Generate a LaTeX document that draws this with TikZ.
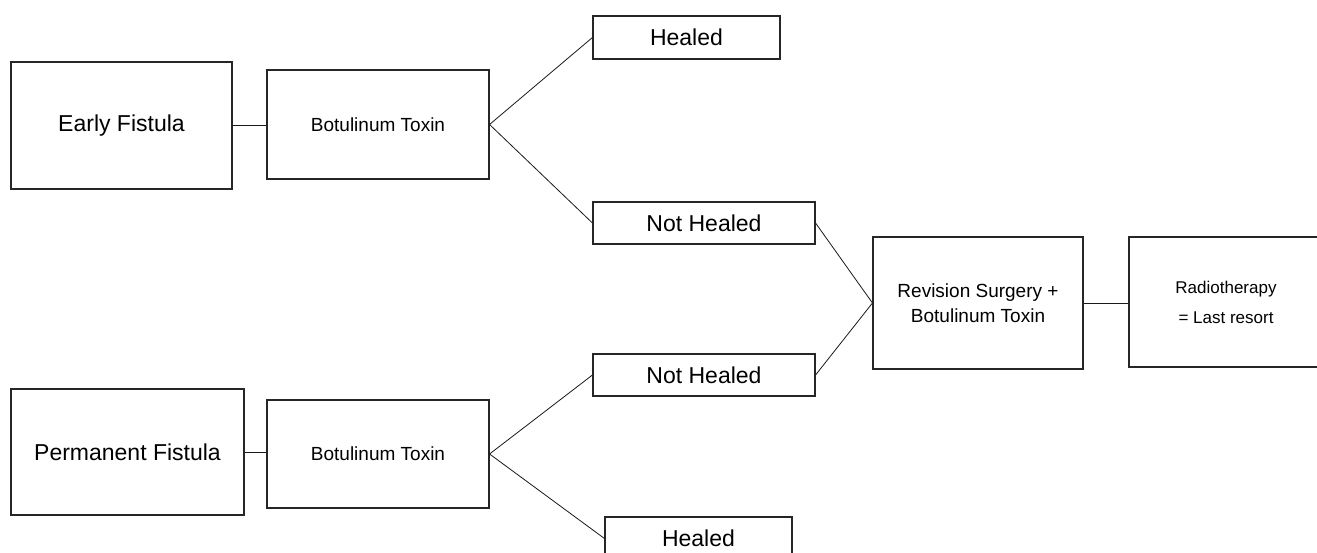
\documentclass[tikz,border=0pt]{standalone}
\usepackage{fontspec}
\setmainfont{Liberation Sans}

\begin{document}
\begin{tikzpicture}[x=1pt,y=-1pt,
    box/.style={draw=black!85,line width=1.1pt,inner sep=0pt,align=center},
    big/.style={box,font=\fontsize{23}{28}\selectfont},
    mid/.style={box,font=\fontsize{19}{25}\selectfont},
    small/.style={box,font=\fontsize{17}{30}\selectfont},
    link/.style={draw=black!90,line width=0.8pt}]
      \clip (0,0) rectangle (1317,553);
      \node[big,minimum width=221,minimum height=127] (early) at (121.5,125.5) {Early Fistula};
      \node[mid,minimum width=222,minimum height=109] (botA) at (378,124.5) {Botulinum Toxin};
      \node[big,minimum width=187,minimum height=43] (healA) at (686.5,37.5) {Healed};
      \node[big,minimum width=222,minimum height=42] (notA) at (704,223) {Not Healed};
      \node[mid,minimum width=210,minimum height=132] (revis) at (978,303) {Revision Surgery +\\Botulinum Toxin};
      \node[small,minimum width=194,minimum height=130] (radio) at (1226,302) {Radiotherapy\\ = Last resort};
      \node[big,minimum width=222,minimum height=42] (notB) at (704,375) {Not Healed};
      \node[big,minimum width=233,minimum height=126] (perm) at (127.5,452) {Permanent Fistula};
      \node[mid,minimum width=222,minimum height=108] (botB) at (378,454) {Botulinum Toxin};
      \node[big,minimum width=187,minimum height=43] (healB) at (698.5,538.5) {Healed};
      % branches
      \draw[link] (early.east) -- (early.east -| botA.west);
      \draw[link] (healA.west) -- (botA.east) -- (notA.west);
      \draw[link] (notA.east) -- (revis.west) -- (notB.east);
      \draw[link] (revis.east) -- (revis.east -| radio.west);
      \draw[link] (perm.east) -- (perm.east -| botB.west);
      \draw[link] (notB.west) -- (botB.east) -- (healB.west);
\end{tikzpicture}
\end{document}
